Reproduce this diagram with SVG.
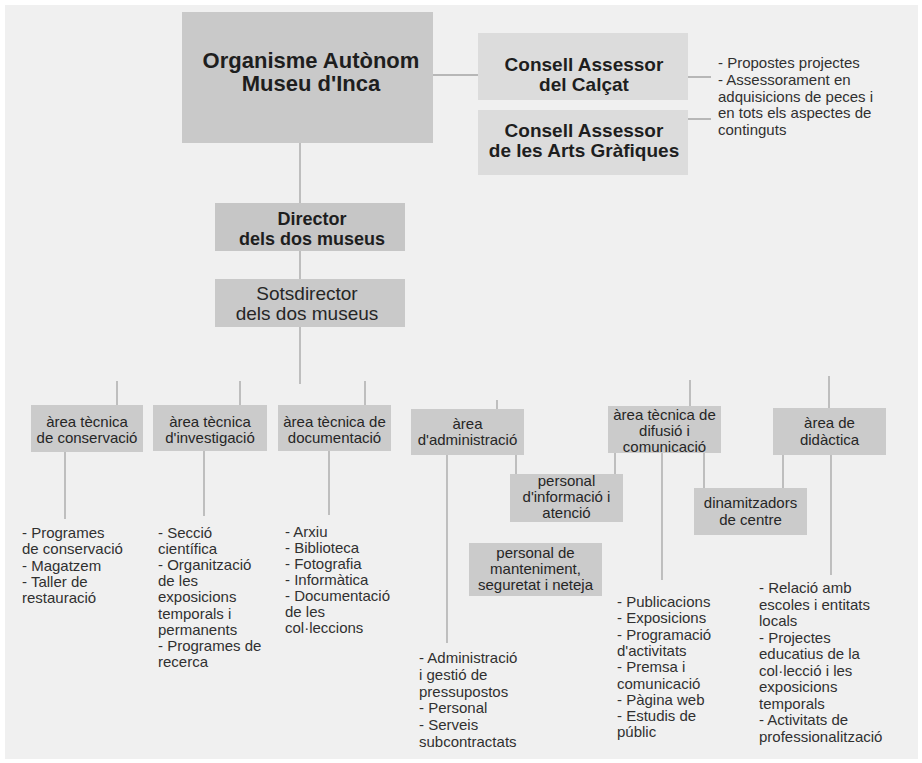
<svg xmlns="http://www.w3.org/2000/svg" width="922" height="763" viewBox="0 0 922 763">
<style>
text{font-family:"Liberation Sans",Arial,sans-serif;fill:#262626}
.t{font-weight:bold;text-anchor:middle;fill:#1e1e1e}
.c{text-anchor:middle;font-size:15px}
.l{font-size:15px;fill:#303030}
.box{fill:#cbcbcb}
.lbox{fill:#dcdcdc}
.ln{stroke:#a4a4a4;stroke-width:1.3;fill:none}
</style>
<rect x="0" y="0" width="922" height="763" fill="#ffffff"/>
<rect x="5" y="5" width="913" height="754" fill="#f0f0f0"/>

<g id="connectors" class="ln">
<path d="M433 75H478"/>
<path d="M687 77H711M688 119H711"/>
<path d="M300 143V203M300 251V280M300 327V384"/>
<path d="M117 381V405M240 381V405M365 381V405"/>
<path d="M497 400V409"/>
<path d="M690 380V406M829 376V408"/>
<path d="M65 452V519M204 451V516M329 451V515"/>
<path d="M447 455V643"/>
<path d="M516 455V474M615 453V474"/>
<path d="M662 453V580"/>
<path d="M704 453V488M783 455V488"/>
<path d="M831 455V575"/>
</g>

<g id="n-organisme">
<rect x="182" y="12" width="251" height="131" fill="#c9c9c9"/>
<text class="t" x="311" y="68" font-size="22">Organisme Autònom</text>
<text class="t" x="311" y="91" font-size="22">Museu d'Inca</text>
</g>

<g id="n-calcat">
<rect class="lbox" x="478" y="33" width="210" height="67"/>
<text class="t" x="584" y="71" font-size="19">Consell Assessor</text>
<text class="t" x="584" y="91" font-size="19">del Calçat</text>
</g>

<g id="n-arts">
<rect class="lbox" x="478" y="110" width="210" height="65"/>
<text class="t" x="584" y="137" font-size="19">Consell Assessor</text>
<text class="t" x="584" y="157" font-size="19">de les Arts Gràfiques</text>
</g>

<g id="n-consell-text">
<text class="l" x="718" y="68">- Propostes projectes<tspan x="718" dy="16.75">- Assessorament en</tspan><tspan x="718" dy="16.75">adquisicions de peces i</tspan><tspan x="718" dy="16.75">en tots els aspectes de</tspan><tspan x="718" dy="16.75">continguts</tspan></text>
</g>

<g id="n-director">
<rect x="215" y="203" width="190" height="48" fill="#c6c6c6"/>
<text class="t" x="312" y="225" font-size="18">Director</text>
<text class="t" x="312" y="245" font-size="18">dels dos museus</text>
</g>

<g id="n-sotsdirector">
<rect x="215" y="279" width="190" height="48" fill="#c9c9c9"/>
<text class="c" x="307" y="300" style="font-size:19px">Sotsdirector</text>
<text class="c" x="307" y="320" style="font-size:19px">dels dos museus</text>
</g>

<g id="n-conservacio">
<rect class="box" x="31" y="405" width="112" height="47"/>
<text class="c" x="87" y="427">àrea tècnica</text>
<text class="c" x="87" y="443">de conservació</text>
<text class="l" x="22" y="538">- Programes<tspan x="22" dy="16.25">de conservació</tspan><tspan x="22" dy="16.25">- Magatzem</tspan><tspan x="22" dy="16.25">- Taller de</tspan><tspan x="22" dy="16.25">restauració</tspan></text>
</g>

<g id="n-investigacio">
<rect class="box" x="153" y="405" width="114" height="46"/>
<text class="c" x="210" y="427">àrea tècnica</text>
<text class="c" x="210" y="443">d'investigació</text>
<text class="l" x="158" y="538">- Secció<tspan x="158" dy="16.1">científica</tspan><tspan x="158" dy="16.1">- Organització</tspan><tspan x="158" dy="16.1">de les</tspan><tspan x="158" dy="16.1">exposicions</tspan><tspan x="158" dy="16.1">temporals i</tspan><tspan x="158" dy="16.1">permanents</tspan><tspan x="158" dy="16.1">- Programes de</tspan><tspan x="158" dy="16.1">recerca</tspan></text>
</g>

<g id="n-documentacio">
<rect class="box" x="278" y="405" width="113" height="46"/>
<text class="c" x="334.5" y="427">àrea tècnica de</text>
<text class="c" x="334.5" y="443">documentació</text>
<text class="l" x="285" y="537">- Arxiu<tspan x="285" dy="16">- Biblioteca</tspan><tspan x="285" dy="16">- Fotografia</tspan><tspan x="285" dy="16">- Informàtica</tspan><tspan x="285" dy="16">- Documentació</tspan><tspan x="285" dy="16">de les</tspan><tspan x="285" dy="16">col·leccions</tspan></text>
</g>

<g id="n-administracio">
<rect class="box" x="411" y="409" width="113" height="46"/>
<text class="c" x="467.5" y="429">àrea</text>
<text class="c" x="467.5" y="445">d'administració</text>
<text class="l" x="419" y="663">- Administració<tspan x="419" dy="16.8">i gestió de</tspan><tspan x="419" dy="16.8">pressupostos</tspan><tspan x="419" dy="16.8">- Personal</tspan><tspan x="419" dy="16.8">- Serveis</tspan><tspan x="419" dy="16.8">subcontractats</tspan></text>
</g>

<g id="n-informacio">
<rect class="box" x="510" y="474" width="113" height="48"/>
<text class="c" x="566.5" y="486">personal</text>
<text class="c" x="566.5" y="502">d'informació i</text>
<text class="c" x="566.5" y="518">atenció</text>
</g>

<g id="n-manteniment">
<rect class="box" x="469" y="543" width="133" height="53"/>
<text class="c" x="535.5" y="558">personal de</text>
<text class="c" x="535.5" y="574">manteniment,</text>
<text class="c" x="535.5" y="590">seguretat i neteja</text>
</g>

<g id="n-difusio">
<rect class="box" x="608" y="406" width="113" height="47"/>
<text class="c" x="664.5" y="420">àrea tècnica de</text>
<text class="c" x="664.5" y="436">difusió i</text>
<text class="c" x="664.5" y="452">comunicació</text>
<text class="l" x="617" y="607">- Publicacions<tspan x="617" dy="16.3">- Exposicions</tspan><tspan x="617" dy="16.3">- Programació</tspan><tspan x="617" dy="16.3">d'activitats</tspan><tspan x="617" dy="16.3">- Premsa i</tspan><tspan x="617" dy="16.3">comunicació</tspan><tspan x="617" dy="16.3">- Pàgina web</tspan><tspan x="617" dy="16.3">- Estudis de</tspan><tspan x="617" dy="16.3">públic</tspan></text>
</g>

<g id="n-dinamitzadors">
<rect class="box" x="694" y="488" width="113" height="47"/>
<text class="c" x="750.5" y="508">dinamitzadors</text>
<text class="c" x="750.5" y="525">de centre</text>
</g>

<g id="n-didactica">
<rect class="box" x="773" y="408" width="113" height="47"/>
<text class="c" x="829.5" y="428">àrea de</text>
<text class="c" x="829.5" y="445">didàctica</text>
<text class="l" x="759" y="593">- Relació amb<tspan x="759" dy="16.5">escoles i entitats</tspan><tspan x="759" dy="16.5">locals</tspan><tspan x="759" dy="16.5">- Projectes</tspan><tspan x="759" dy="16.5">educatius de la</tspan><tspan x="759" dy="16.5">col·lecció  i les</tspan><tspan x="759" dy="16.5">exposicions</tspan><tspan x="759" dy="16.5">temporals</tspan><tspan x="759" dy="16.5">- Activitats de</tspan><tspan x="759" dy="16.5">professionalització</tspan></text>
</g>
</svg>
